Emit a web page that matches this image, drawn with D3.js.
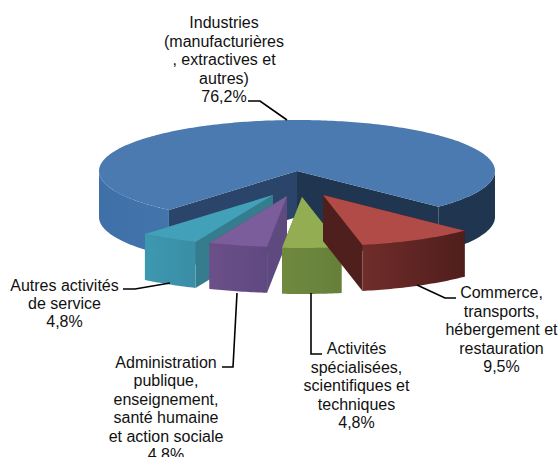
<!DOCTYPE html>
<html lang="fr">
<head>
    <meta charset="UTF-8">
    <title>Répartition par secteur</title>
    <script src="https://d3js.org/d3.v7.min.js"></script>
    <style>
        html, body { margin: 0; padding: 0; background: #fff; }
        svg { display: block; }
        text { font-family: "Liberation Sans", Arial, sans-serif; font-size: 16px; fill: #111; }
    </style>
</head>
<body>
<div id="my_dataviz"></div>
<script>
    // chart values
    var categories = ["Industries", "Commerce", "Activites", "Administration", "Autres"];
    var values = [76.2, 9.5, 4.8, 4.8, 4.8];
    var valueLabels = ["76,2%", "9,5%", "4,8%", "4,8%", "4,8%"];
    var labelLines = [
        ["Industries", "(manufacturières", ", extractives et", "autres)"],
        ["Commerce,", "transports,", "hébergement et", "restauration"],
        ["Activités", "spécialisées,", "scientifiques et", "techniques"],
        ["Administration", "publique,", "enseignement,", "santé humaine", "et action sociale"],
        ["Autres activités", "de service"]
    ];

    // layout, one entry per slice
    var width = 560, height = 457;
    var depth = 46;
    var offsets = [[0, 0], [26, 24], [5, 26], [-10, 25], [-24, 24]];
    var labelPos = [[224, 28, 18.5], [501.5, 298, 18.5], [356.5, 354, 18.5], [166, 368, 18.4], [64.5, 291, 18]];
    var leaders = [
        [[248, 101], [260, 101], [287, 120]],
        [[417, 285], [445, 298], [456, 298]],
        [[311, 293], [311, 354], [322, 354]],
        [[237, 293], [233, 367], [222, 367]],
        [[123, 289], [135, 289], [170, 283]]
    ];
    var topColor = ["#4a7ab0", "#b04b47", "#93ad53", "#7a5d9a", "#42a0b9"];
    var faceColor = [["#2a4569", "#1f3550"], ["#4f1f1d", "#4f1f1d"], ["#5f7535", "#5f7535"], ["#5f4a80", "#5f4a80"], ["#357c8e", "#357c8e"]];
    var wallColors = [
        ["#4070a8", "#4474ac"],
        ["#702d2a", "#4f1e1c"],
        ["#6f8a3f", "#66803a"],
        ["#6c4f88", "#5f4980"],
        ["#3c98b0", "#3a8ea6"]
    ];

    var svg = d3.select("#my_dataviz")
        .append("svg")
        .attr("width", width)
        .attr("height", height)
        .style("overflow", "hidden");

    var defs = svg.append("defs");

    // unit circle to screen
    var sx = d3.scaleLinear().domain([-1, 1]).range([99, 495]);
    var sy = d3.scaleLinear().domain([-1, 1]).range([120, 222]);

    // slices run clockwise from the left end of the big one
    var pie = d3.pie().sort(null).startAngle(-139.7 * Math.PI / 180).endAngle((360 - 139.7) * Math.PI / 180);
    var arcs = pie(values);

    var line = d3.line();

    function rimPoints(a0, a1, off, dy) {
        var n = Math.max(2, Math.ceil(Math.abs(a1 - a0) * 60));
        return d3.range(n + 1).map(function (i) {
            var a = a0 + (a1 - a0) * i / n;
            return [sx(Math.sin(a)) + off[0], sy(-Math.cos(a)) + off[1] + dy];
        });
    }

    function apex(off, dy) {
        return [sx(0) + off[0], sy(0) + off[1] + dy];
    }

    // order of painting: big slice first, then from left to right
    var order = [0, 4, 3, 2, 1];

    order.forEach(function (i) {
        var d = arcs[i], off = offsets[i];
        var g = svg.append("g").attr("class", "slice-" + categories[i]);

        // cut faces
        [d.startAngle, d.endAngle].forEach(function (a, k) {
            var rim = rimPoints(a, a, off, 0)[0];
            var pts = [apex(off, 0), rim, [rim[0], rim[1] + depth], apex(off, depth)];
            g.append("path")
                .attr("d", line(pts) + "Z")
                .attr("fill", faceColor[i][k]);
        });

        // outer wall, only where the rim faces the viewer
        var ranges = [];
        for (var t = -2; t <= 2; t++) {
            var lo = Math.max(d.startAngle, Math.PI / 2 + 2 * Math.PI * t);
            var hi = Math.min(d.endAngle, 3 * Math.PI / 2 + 2 * Math.PI * t);
            if (lo < hi) ranges.push([lo, hi]);
        }
        ranges.forEach(function (r, k) {
            var top = rimPoints(r[0], r[1], off, 0);
            var bottom = rimPoints(r[1], r[0], off, depth);
            var xs = d3.extent(top, function (p) { return p[0]; });
            var id = "wall" + i + "_" + k;
            // the big slice has a dark right side and a light left side
            var cols = wallColors[i];
            if (i === 0 && top[0][0] > sx(0)) cols = ["#1f3550", "#1f3550"];
            var grad = defs.append("linearGradient")
                .attr("id", id)
                .attr("gradientUnits", "userSpaceOnUse")
                .attr("x1", xs[0]).attr("x2", xs[1])
                .attr("y1", 0).attr("y2", 0);
            grad.append("stop").attr("offset", 0).attr("stop-color", cols[0]);
            grad.append("stop").attr("offset", 1).attr("stop-color", cols[1]);
            g.append("path")
                .attr("d", line(top.concat(bottom)) + "Z")
                .attr("fill", "url(#" + id + ")");
        });

        // top
        g.append("path")
            .attr("d", line([apex(off, 0)].concat(rimPoints(d.startAngle, d.endAngle, off, 0))) + "Z")
            .attr("fill", topColor[i]);
    });

    // leader lines
    svg.selectAll(".leader")
        .data(leaders)
        .enter()
        .append("path")
        .attr("class", "leader")
        .attr("fill", "none")
        .attr("stroke", "#000")
        .attr("stroke-width", 1.6)
        .attr("d", function (d) { return line(d); });

    // labels
    labelLines.forEach(function (lines, i) {
        var all = lines.concat([valueLabels[i]]);
        var text = svg.append("text")
            .attr("text-anchor", "middle");
        all.forEach(function (s, k) {
            text.append("tspan")
                .attr("x", labelPos[i][0])
                .attr("y", labelPos[i][1] + k * labelPos[i][2])
                .text(s);
        });
    });
</script>
</body>
</html>
